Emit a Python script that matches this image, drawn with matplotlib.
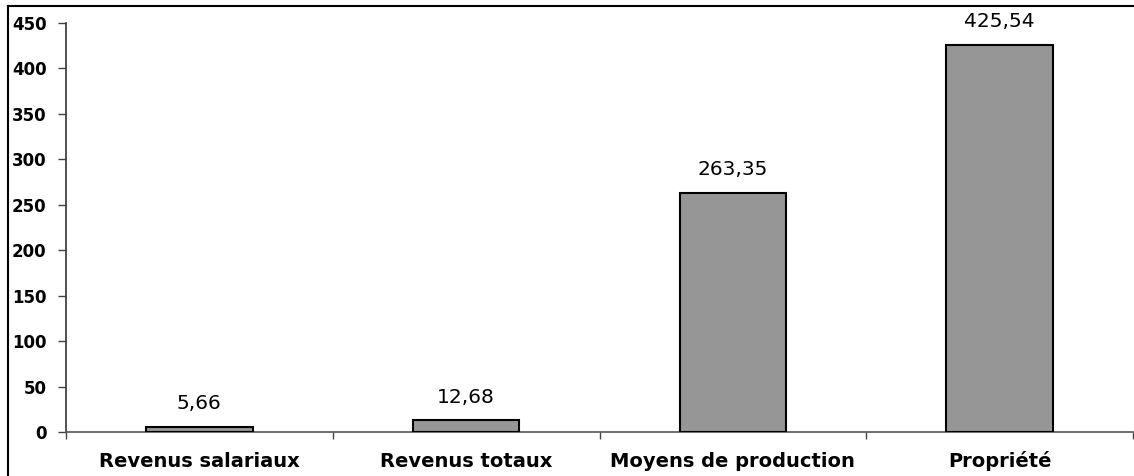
import matplotlib.pyplot as plt
from matplotlib.lines import Line2D

categories = ['Revenus salariaux', 'Revenus totaux', 'Moyens de production', 'Propriété']
values = [5.66, 12.68, 263.35, 425.54]
labels = ['5,66', '12,68', '263,35', '425,54']

plt.rcParams['font.family'] = ['DejaVu Sans']

W, H = 1134, 476
fig = plt.figure(figsize=(W / 100, H / 100), dpi=100)
ax = fig.add_axes([66 / W, (H - 432) / H, (1133 - 66) / W, (432 - 23) / H])

x = range(len(categories))
bars = ax.bar(x, values, width=0.4, color='#969696', edgecolor='black', linewidth=1.5, zorder=3)

for b, lab in zip(bars, labels):
    ax.annotate(lab, (b.get_x() + b.get_width() / 2, b.get_height()),
                xytext=(0, 10), textcoords='offset points',
                ha='center', va='bottom', fontsize=14.5)

ax.set_xlim(-0.5, 3.5)
ax.set_ylim(0, 450)
ax.set_yticks(range(0, 451, 50))
ax.set_xticks(list(x))
ax.set_xticklabels(categories, fontweight='bold', fontsize=14, va='baseline')
ax.set_xticks([i - 0.5 for i in range(len(categories) + 1)], minor=True)
ax.tick_params(axis='x', which='major', length=0, pad=25)
ax.tick_params(axis='x', which='minor', length=5, width=1, color='#444444')
ax.tick_params(axis='y', length=6, width=1, pad=8, labelsize=12, color='#444444')
for t in ax.get_yticklabels():
    t.set_fontweight('bold')

for s in ['top', 'right']:
    ax.spines[s].set_visible(False)
ax.spines['left'].set_color('#333333')
ax.spines['bottom'].set_color('#555555')
for s in ['left', 'bottom']:
    ax.spines[s].set_linewidth(1.2)

# outer frame (left and top edges visible)
fig.add_artist(Line2D([7.5 / W, 7.5 / W], [0, 1 - 6 / H], color='black', lw=1.5))
fig.add_artist(Line2D([7.5 / W, 1], [1 - 6 / H, 1 - 6 / H], color='black', lw=1.5))

fig.savefig('out.png', dpi=100)
